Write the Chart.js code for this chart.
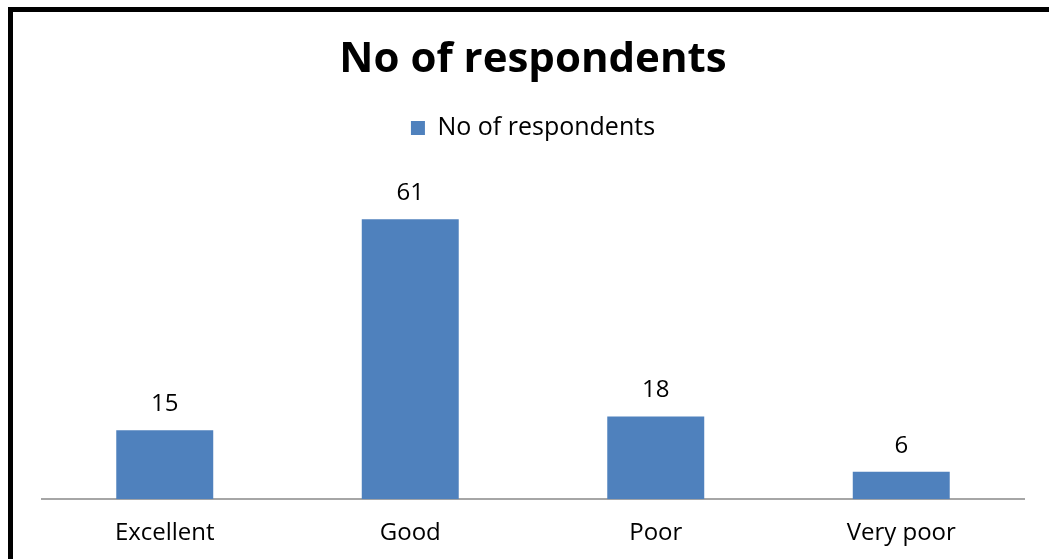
<!DOCTYPE html>
<html>
<head>
<meta charset="utf-8">
<script src="https://cdn.jsdelivr.net/npm/chart.js@4"></script>
<style>
  html, body { margin: 0; padding: 0; background: #fff; }
  #wrap { position: relative; width: 1049px; height: 559px; overflow: hidden; }
  #frame {
    position: absolute; left: 8px; top: 7px; width: 1100px; height: 600px;
    border-left: 5px solid #000; border-top: 5px solid #000;
  }
  #myChart { position: absolute; left: 0; top: 0; }
</style>
</head>
<body>
<div id="wrap">
  <div id="frame"></div>
  <canvas id="myChart" width="1049" height="559"></canvas>
</div>
<script>
// data
const categories = ['Excellent', 'Good', 'Poor', 'Very poor'];
const respondents = [15, 61, 18, 6];
const seriesName = 'No of respondents';
const barColor = '#4f81bd';

// value labels above bars
const valueLabels = {
    id: 'valueLabels',
    afterDatasetsDraw(chart) {
        const ctx = chart.ctx;
        const meta = chart.getDatasetMeta(0);
        ctx.save();
        ctx.font = '24px "Open Sans"';
        ctx.fillStyle = '#000';
        ctx.textAlign = 'center';
        ctx.textBaseline = 'middle';
        meta.data.forEach(function (bar, i) {
            ctx.fillText(respondents[i], bar.x, bar.y - 26);
        });
        ctx.restore();
    }
};

const ctx1 = document.getElementById('myChart').getContext('2d');
const data = {
    labels: categories,
    datasets: [{
        label: seriesName,
        data: respondents,
        backgroundColor: barColor,
        barPercentage: 0.395,
        categoryPercentage: 1
    }]
};
const config = {
    type: 'bar',
    data: data,
    options: {
        responsive: false,
        animation: false,
        layout: { padding: { top: 10, left: 42, right: 25, bottom: -9 } },
        plugins: {
            title: {
                display: true,
                text: 'No of respondents',
                color: '#000',
                font: { family: 'Open Sans', size: 42, weight: 'bold' },
                padding: { top: 25, bottom: 20 }
            },
            legend: {
                display: true,
                labels: {
                    color: '#000',
                    font: { family: 'Open Sans', size: 25 },
                    boxWidth: 14,
                    boxHeight: 14,
                    padding: 10
                }
            },
            tooltip: { enabled: false }
        },
        scales: {
            x: {
                grid: { display: false, drawTicks: false, tickLength: 0 },
                border: { color: '#a6a6a6', width: 2 },
                ticks: { color: '#000', font: { family: 'Open Sans', size: 24 }, padding: 20 }
            },
            y: {
                display: false,
                min: 0,
                max: 76
            }
        }
    },
    plugins: [valueLabels]
};
const myChart = new Chart(ctx1, config);
</script>
</body>
</html>
